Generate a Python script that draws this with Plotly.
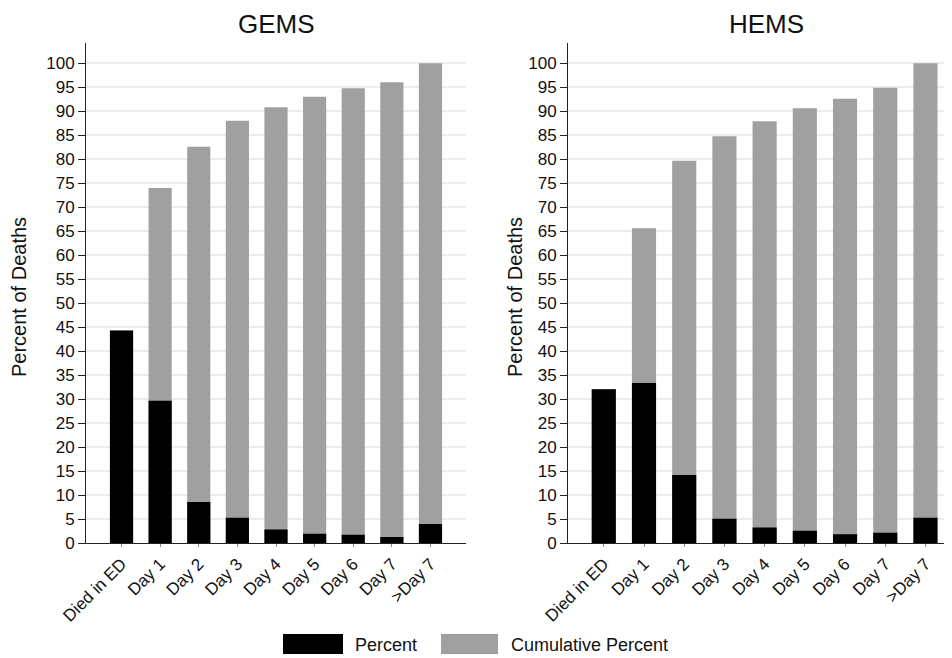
import plotly.graph_objects as go

categories = ["Died in ED", "Day 1", "Day 2", "Day 3", "Day 4", "Day 5", "Day 6", "Day 7", ">Day 7"]

gems_percent = [44.3, 29.7, 8.6, 5.3, 2.9, 2.0, 1.8, 1.3, 4.0]
gems_cumulative = [44.3, 74.0, 82.6, 88.0, 90.8, 93.0, 94.8, 96.0, 100.0]

hems_percent = [32.1, 33.4, 14.2, 5.1, 3.3, 2.6, 1.9, 2.2, 5.3]
hems_cumulative = [32.1, 65.6, 79.7, 84.8, 87.9, 90.6, 92.6, 94.9, 100.0]

panel_titles = ["GEMS", "HEMS"]
y_ticks = list(range(0, 101, 5))
legend_labels = ["Percent", "Cumulative Percent"]

BLACK = "#000000"
GRAY = "#a0a0a0"
FONT = "Liberation Sans, Arial, sans-serif"
TXT = "#111111"

W, H = 952, 658
OFF = 8  # page body margin offset


def px(x):
    return (x - OFF) / W


def py(y):
    return 1 - (y - OFF) / H


fig = go.Figure()

panels = [
    (gems_percent, gems_cumulative, "x", "y"),
    (hems_percent, hems_cumulative, "x2", "y2"),
]
for pct, cum, xa, ya in panels:
    fig.add_trace(go.Bar(x=categories, y=cum, marker_color=GRAY, marker_line_width=0,
                         width=0.6, name=legend_labels[1], xaxis=xa, yaxis=ya, showlegend=False))
    fig.add_trace(go.Bar(x=categories, y=pct, marker_color=BLACK, marker_line_width=0,
                         width=0.6, name=legend_labels[0], xaxis=xa, yaxis=ya, showlegend=False))

ydom = [py(543.3), py(43)]
common_y = dict(
    range=[0, 104.2], tickvals=y_ticks, showgrid=True, gridcolor="#ececec", gridwidth=1.5,
    showline=True, linecolor="#222222", linewidth=1, ticks="outside", ticklen=7,
    tickcolor="#222222", tickfont=dict(size=17, color=TXT, family=FONT),
    zeroline=False, automargin=False,
)
common_x = dict(
    showgrid=False, showline=True, linecolor="#222222", linewidth=1, ticks="outside",
    ticklen=3, tickcolor="#888888", tickangle=-45, automargin=False,
    tickfont=dict(size=17, color=TXT, family=FONT),
)

fig.update_layout(
    width=W, height=H,
    margin=dict(l=0, r=0, t=0, b=0),
    paper_bgcolor="white", plot_bgcolor="white",
    barmode="overlay",
    showlegend=False,
    font=dict(family=FONT),
    xaxis=dict(domain=[px(86), px(466)], range=[-0.92, 8.92], anchor="y", **common_x),
    yaxis=dict(domain=ydom, anchor="x", **common_y),
    xaxis2=dict(domain=[px(568), px(952)], range=[-0.89, 8.66], anchor="y2", **common_x),
    yaxis2=dict(domain=ydom, anchor="x2", **common_y),
)

# y-axis titles
for xc in [19, 515]:
    fig.add_annotation(text="Percent of Deaths", xref="paper", yref="paper", x=px(xc),
                       y=py(297), textangle=-90, showarrow=False,
                       xanchor="center", yanchor="middle",
                       font=dict(size=20, color=TXT, family=FONT))

# panel titles
for title, xc in zip(panel_titles, [276, 766]):
    fig.add_annotation(text=title, xref="paper", yref="paper", x=px(xc), y=py(24),
                       showarrow=False, xanchor="center", yanchor="middle",
                       font=dict(size=26, color=TXT, family=FONT))

# legend (swatches + labels)
legend_items = [(legend_labels[0], BLACK, 283, 343, 353), (legend_labels[1], GRAY, 441, 498, 509)]
for label, color, x0, x1, tx in legend_items:
    fig.add_shape(type="rect", xref="paper", yref="paper",
                  x0=px(x0), x1=px(x1), y0=py(654), y1=py(634),
                  fillcolor=color, line_width=0)
    fig.add_annotation(text=label, xref="paper", yref="paper", x=px(tx), y=py(645),
                       showarrow=False, xanchor="left", yanchor="middle",
                       font=dict(size=18, color=TXT, family=FONT))

fig.write_html("out.html")
